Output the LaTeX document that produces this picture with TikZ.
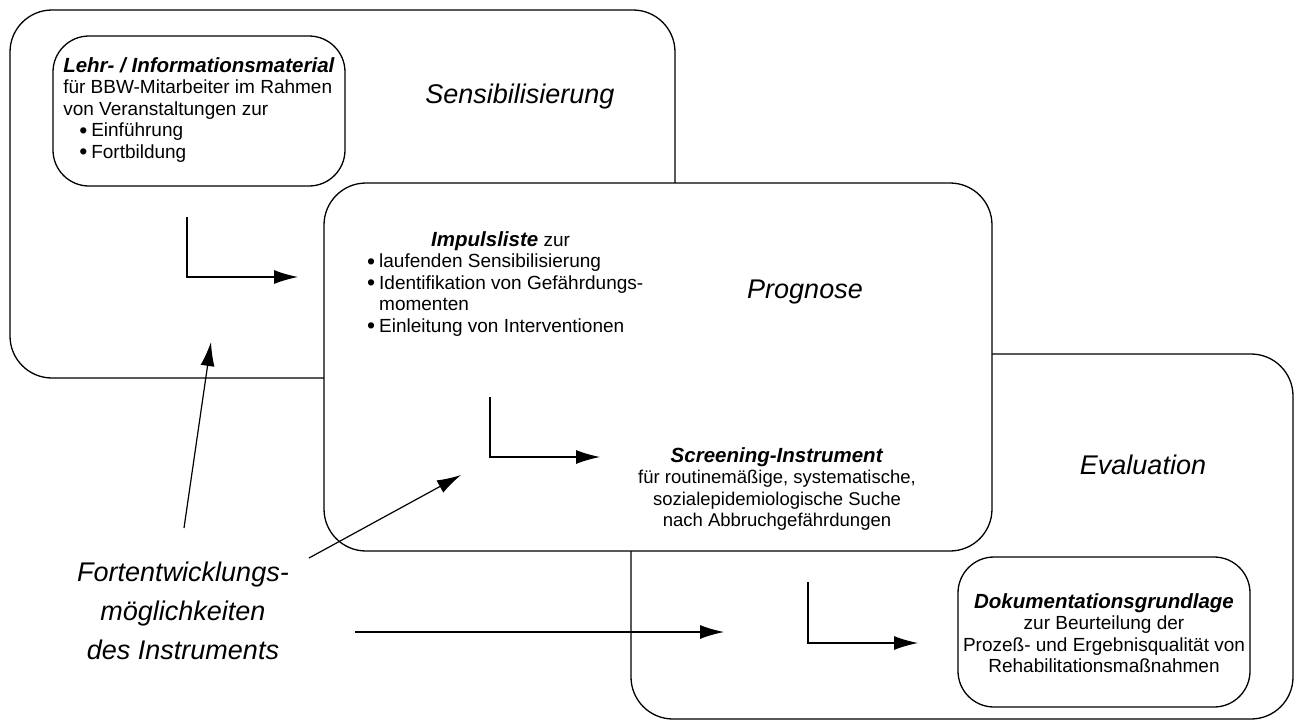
\documentclass[tikz,border=0pt]{standalone}
\usepackage{fontspec}
\setmainfont{Liberation Sans}
\usetikzlibrary{arrows.meta}
\newcommand{\bul}{\makebox[12pt][l]{\smash{\raisebox{-1.5pt}{\fontsize{23}{21.5}\selectfont\textbullet}}}}
\newcommand{\bulgap}{\hspace*{12pt}}
\newcommand{\head}[1]{{\fontsize{20.5}{21.5}\selectfont\textbf{\textit{#1}}}}
\begin{document}
\begin{tikzpicture}[x=1pt,y=-1pt,
  phase/.style={draw, line width=1.3pt, fill=white, rounded corners=42pt, inner sep=0pt, outer sep=0pt},
  innerbox/.style={draw, line width=1.3pt, fill=white, rounded corners=36pt, inner sep=0pt, outer sep=0pt},
  small/.style={font=\fontsize{19}{21.5}\selectfont, inner sep=0pt},
  big/.style={font=\fontsize{27}{39}\selectfont\itshape, inner sep=0pt},
  arr/.style={line width=1.2pt, -{Latex[length=24pt,width=14pt]}}
]
\useasboundingbox (0,0) rectangle (1296,721);

% phase boxes (back to front)
\node[phase, minimum width=665pt, minimum height=368pt] (sens) at (342.5,194) {};
\node[phase, minimum width=662pt, minimum height=365pt] (eval) at (962,536.5) {};
\node[phase, minimum width=668pt, minimum height=368pt] (prog) at (658,367) {};

% inner boxes
\node[innerbox, minimum width=292pt, minimum height=150pt] (lehrbox) at (199,111) {};
\node[innerbox, minimum width=292pt, minimum height=150pt] (dokubox) at (1104,632) {};

% texts
\node[small, align=left] (lehr) at (199,110) {\head{Lehr- / Informationsmaterial}\\
für BBW-Mitarbeiter im Rahmen\\
von Veranstaltungen zur\\
\hspace*{16pt}\bul Einführung\\
\hspace*{16pt}\bul Fortbildung};

\node[small, align=left, anchor=north west] (impuls) at (367,231) {\hspace*{64pt}\head{Impulsliste} zur\\
\bul laufenden Sensibilisierung\\
\bul Identifikation von Gefährdungs-\\
\bulgap momenten\\
\bul Einleitung von Interventionen};

\node[small, align=center, font=\fontsize{18.5}{21.5}\selectfont] (screen) at (777,489) {\head{Screening-Instrument}\\
für routinemäßige, systematische,\\
sozialepidemiologische Suche\\
nach Abbruchgefährdungen};

\node[small, align=center] (doku) at (1104,633) {\head{Dokumentationsgrundlage}\\
zur Beurteilung der\\
Prozeß- und Ergebnisqualität von\\
Rehabilitationsmaßnahmen};

\node[big] (lsens) at (520,97) {Sensibilisierung};
\node[big] (lprog) at (805,292) {Prognose};
\node[big] (leval) at (1143,465) {Evaluation};

\node[big, align=center] (fort) at (183,611) {Fortentwicklungs-\\möglichkeiten\\des Instruments};

% arrows
\coordinate (a1s) at (187,217);
\coordinate (a1e) at (298,277);
\draw[arr] (a1s) |- (a1e);

\coordinate (a2s) at (490,397);
\coordinate (a2e) at (600,457);
\draw[arr] (a2s) |- (a2e);

\coordinate (a3s) at (808,582);
\coordinate (a3e) at (918,643);
\draw[arr] (a3s) |- (a3e);

\coordinate (f1s) at (184,528);
\coordinate (f1e) at (211,342);
\draw[arr] (f1s) -- (f1e);

\coordinate (f2s) at (309,558);
\coordinate (f2e) at (461,475);
\draw[arr] (f2s) -- (f2e);

\coordinate (f3s) at (355,632);
\coordinate (f3e) at (724,632);
\draw[arr] (f3s) -- (f3e);
\end{tikzpicture}
\end{document}
